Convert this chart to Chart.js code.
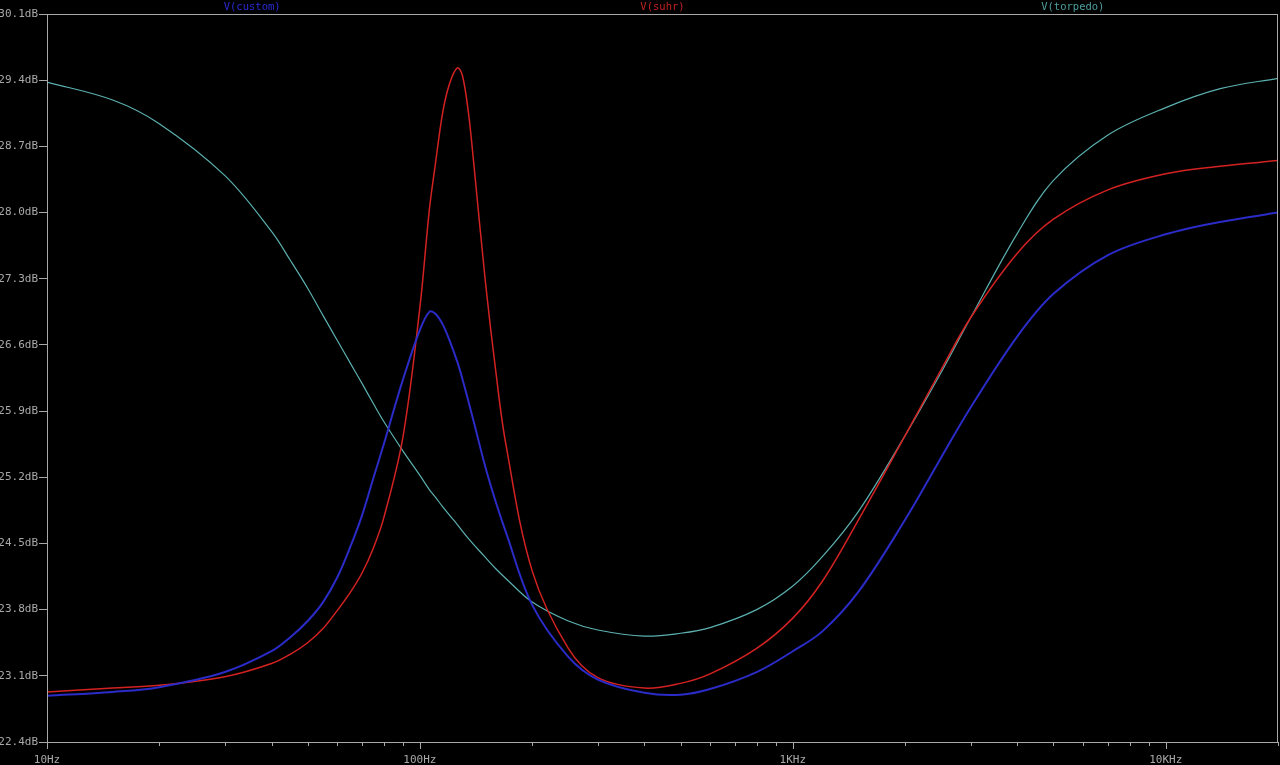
<!DOCTYPE html>
<html>
<head>
<meta charset="utf-8">
<script src="https://cdn.jsdelivr.net/npm/chart.js@4.4.1/dist/chart.umd.min.js"></script>
<style>
  html, body { margin: 0; padding: 0; background: #000; }
  #wrap { width: 1280px; height: 765px; position: relative; }
</style>
</head>
<body>
<div id="wrap"><canvas id="bode"></canvas></div>
<script>
// frequency points (Hz)
const freqs = [10, 15, 20, 30, 40, 45, 50, 55, 60, 65, 70, 75, 80, 90, 100, 106, 110, 115, 120, 126, 130,
  135, 140, 150, 160, 170, 200, 250, 300, 400, 500, 600, 800, 1000, 1200, 1500, 2000, 2500, 3000, 4000,
  5000, 7000, 10000, 14000, 20000];

// magnitudes (dB)
const custom = [22.89, 22.93, 22.98, 23.14, 23.36, 23.51, 23.68, 23.88, 24.14, 24.46, 24.80, 25.19, 25.55,
  26.23, 26.76, 26.95, 26.93, 26.82, 26.65, 26.42, 26.24, 26.00, 25.76, 25.30, 24.93, 24.62, 23.85, 23.30,
  23.06, 22.92, 22.90, 22.96, 23.14, 23.36, 23.57, 23.99, 24.75, 25.41, 25.94, 26.69, 27.14, 27.55, 27.77,
  27.90, 28.00];
const suhr = [22.93, 22.97, 23.00, 23.09, 23.23, 23.33, 23.45, 23.60, 23.79, 23.98, 24.19, 24.45, 24.77,
  25.62, 27.00, 28.03, 28.51, 29.05, 29.36, 29.53, 29.45, 29.05, 28.45, 27.25, 26.30, 25.55, 24.21, 23.39,
  23.08, 22.97, 23.02, 23.12, 23.39, 23.71, 24.10, 24.75, 25.64, 26.34, 26.89, 27.57, 27.93, 28.24, 28.41,
  28.49, 28.55];
const torpedo = [29.38, 29.19, 28.94, 28.39, 27.80, 27.49, 27.20, 26.91, 26.65, 26.41, 26.19, 25.98, 25.79,
  25.48, 25.22, 25.07, 24.99, 24.89, 24.80, 24.70, 24.63, 24.55, 24.48, 24.35, 24.23, 24.13, 23.88, 23.68,
  23.585, 23.52, 23.55, 23.61, 23.80, 24.05, 24.36, 24.84, 25.64, 26.31, 26.89, 27.78, 28.34, 28.82, 29.11,
  29.31, 29.42];

const seriesNames = ["V(custom)", "V(suhr)", "V(torpedo)"];

// axis ticks
const yTicks = [22.4, 23.1, 23.8, 24.5, 25.2, 25.9, 26.6, 27.3, 28.0, 28.7, 29.4, 30.1];
const xTicks = [10, 20, 30, 40, 50, 60, 70, 80, 90, 100, 200, 300, 400, 500, 600, 700, 800, 900,
  1000, 2000, 3000, 4000, 5000, 6000, 7000, 8000, 9000, 10000, 20000];
const xLabels = { 10: "10Hz", 100: "100Hz", 1000: "1KHz", 10000: "10KHz" };

const axisColor = "#a8a8a8";
const mono = "'DejaVu Sans Mono', 'Liberation Mono', monospace";

const pairs = (ys) => freqs.map((f, i) => ({ x: f, y: ys[i] }));

// black background, plot frame, x tick marks, trace titles
const ltspiceLook = {
  id: "ltspiceLook",
  beforeDraw(chart) {
    const ctx = chart.ctx;
    ctx.save();
    ctx.fillStyle = "#000";
    ctx.fillRect(0, 0, chart.width, chart.height);
    ctx.restore();
  },
  afterDraw(chart) {
    const ctx = chart.ctx;
    const a = chart.chartArea;
    const xs = chart.scales.x;
    ctx.save();
    ctx.strokeStyle = axisColor;
    ctx.lineWidth = 1;
    ctx.strokeRect(a.left + 0.5, a.top + 0.5, a.right - a.left - 1, a.bottom - a.top);

    // x tick marks, majors longer
    ctx.beginPath();
    xs.ticks.forEach((t) => {
      const px = Math.round(xs.getPixelForValue(t.value)) + 0.5;
      const len = xLabels[t.value] ? 7 : 4;
      ctx.moveTo(px, a.bottom);
      ctx.lineTo(px, a.bottom + len);
    });
    ctx.stroke();

    // trace titles across the top
    ctx.font = "10.5px " + mono;
    ctx.textAlign = "center";
    ctx.textBaseline = "middle";
    const n = chart.data.datasets.length;
    chart.data.datasets.forEach((ds, i) => {
      ctx.fillStyle = ds.titleColor;
      ctx.fillText(ds.label, a.left + (a.right - a.left) * (i + 0.5) / n, 7);
    });
    ctx.restore();
  },
};

new Chart(document.getElementById("bode").getContext("2d"), {
  type: "line",
  data: {
    datasets: [
      {
        label: seriesNames[0],
        data: pairs(custom),
        borderColor: "#2b2bc8",
        titleColor: "#2b2bd8",
        borderWidth: 2,
      },
      {
        label: seriesNames[1],
        data: pairs(suhr),
        borderColor: "#d42222",
        titleColor: "#c42222",
        borderWidth: 1.5,
      },
      {
        label: seriesNames[2],
        data: pairs(torpedo),
        borderColor: "#5cb0b0",
        titleColor: "#4e9e9e",
        borderWidth: 1.2,
      },
    ],
  },
  options: {
    responsive: true,
    maintainAspectRatio: false,
    animation: false,
    parsing: false,
    layout: { padding: { top: 14, right: 2, left: 0, bottom: 0 } },
    elements: {
      point: { radius: 0 },
      line: { tension: 0.35, fill: false },
    },
    plugins: {
      legend: { display: false },
      tooltip: { enabled: false },
    },
    scales: {
      x: {
        type: "logarithmic",
        min: 10,
        max: 20000,
        afterBuildTicks: (scale) => {
          scale.ticks = xTicks.map((v) => ({ value: v }));
        },
        afterFit: (scale) => {
          scale.height = 23;
          scale.paddingLeft = 0;
          scale.paddingRight = 0;
        },
        grid: { display: false },
        border: { display: false },
        ticks: {
          autoSkip: false,
          maxRotation: 0,
          padding: 4,
          color: axisColor,
          font: { family: mono, size: 11 },
          callback: (v) => xLabels[v] || "",
        },
      },
      y: {
        type: "linear",
        min: 22.4,
        max: 30.1,
        afterBuildTicks: (scale) => {
          scale.ticks = yTicks.map((v) => ({ value: v }));
        },
        afterFit: (scale) => {
          scale.width = 47;
        },
        grid: {
          drawOnChartArea: false,
          drawTicks: true,
          tickLength: 8,
          tickColor: axisColor,
        },
        border: { display: false },
        ticks: {
          padding: 1,
          color: axisColor,
          font: { family: mono, size: 11 },
          callback: (v) => Number(v).toFixed(1) + "dB",
        },
      },
    },
  },
  plugins: [ltspiceLook],
});
</script>
</body>
</html>
